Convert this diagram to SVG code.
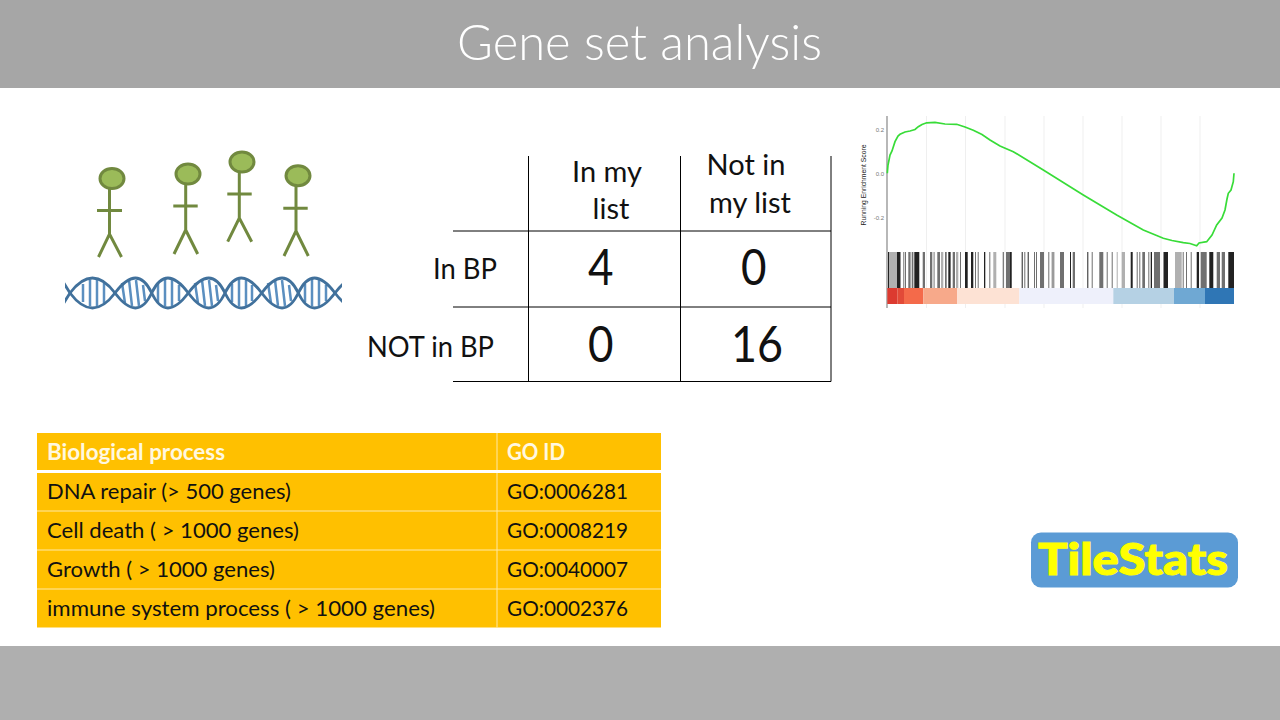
<svg xmlns="http://www.w3.org/2000/svg" width="1280" height="720" viewBox="0 0 1280 720">
<style>
text{font-family:"Lato","Carlito","Open Sans",sans-serif;fill:#111}
.head{fill:#9bbb59;stroke:#71893f;stroke-width:3}
.fig{fill:none;stroke:#71893f;stroke-width:3}
.cell{fill:#ffc000}
.rule{stroke:#000;stroke-width:1;fill:none}
.lab{font-size:29px}
.num{font-size:50px}
.row{font-size:21.5px}
.hdr{font-size:22px;font-weight:700;fill:#fff8e0}
.tick{font-size:6px;fill:#777;text-anchor:end;font-family:"Liberation Sans",sans-serif}
.strand{fill:none;stroke:#41719c;stroke-width:2.800}
.sep{stroke:#ffe9a6;stroke-width:1}
</style>
<defs><clipPath id="dc"><rect x="65" y="270" width="277" height="45"/></clipPath></defs>
<rect width="1280" height="720" fill="#fff"/>
<rect id="top-band" width="1280" height="88" fill="#a6a6a6"/>
<rect id="bottom-band" y="646" width="1280" height="74" fill="#afafaf"/>
<text id="title" x="457" y="60" font-size="50" font-weight="300" textLength="365" lengthAdjust="spacingAndGlyphs" style="fill:#fff">Gene set analysis</text>

<g id="people">
<g id="person1"><ellipse class="head" cx="112" cy="178.500" rx="12" ry="10"/><path class="fig" d="M109.500 188V234M97 210.500H122M98.500 257L109.500 234L121.500 257"/></g>
<g id="person2"><ellipse class="head" cx="188" cy="174" rx="12" ry="10"/><path class="fig" d="M185.700 184V230M173.300 206H197.700M174 254L185.700 230L197.700 254"/></g>
<g id="person3"><ellipse class="head" cx="242" cy="162" rx="12" ry="10"/><path class="fig" d="M239.300 172V218M227.300 194H251.700M227.700 241.700L239.300 218L251.700 241.700"/></g>
<g id="person4"><ellipse class="head" cx="298" cy="175.700" rx="12" ry="10"/><path class="fig" d="M296 186V231M283.300 208.300H307.700M284 256L296 231L308.300 256"/></g>
</g>

<g id="dna" clip-path="url(#dc)" fill="none">
<path stroke="#5b8fc0" stroke-width="2.500" d="M83 284V302M90 280V306M97 279V307M104 283V303M122 283L125 303M129 280L132 306M136 280L139 306M143 285L145 301M158 284V302M165 280V306M172 280V306M179 285V301M195 283L198 303M202 280L205 306M209 280L212 306M216 285L218 301M232 284V302M239 280V306M246 280V306M252 285V301M268 283L271 303M275 280L278 306M282 280L285 306M289 285L291 301M305 284V302M312 280V306M319 280V306M326 285V301"/>
<path class="strand" d="M60 277L70 293Q92.500 323 115 293T151.700 293T188.300 293T225 293T261.700 293T298.300 293T335 293T371.700 293"/>
<path class="strand" d="M60 309L70 293Q92.500 263 115 293T151.700 293T188.300 293T225 293T261.700 293T298.300 293T335 293T371.700 293"/>
</g>

<g id="contingency">
<path class="rule" d="M453 231H831M453 307H831M453 381.500H831M528.500 156V381.500M680.500 156V381.500M831 156V381.500"/>
<text class="lab" x="607" y="182" text-anchor="middle">In my</text>
<text class="lab" x="611" y="219" text-anchor="middle">list</text>
<text class="lab" x="746" y="175" text-anchor="middle">Not in</text>
<text class="lab" x="750" y="213" text-anchor="middle">my list</text>
<text class="lab" x="433" y="279" textLength="64" lengthAdjust="spacingAndGlyphs">In BP</text>
<text class="lab" x="367" y="357" textLength="127" lengthAdjust="spacingAndGlyphs">NOT in BP</text>
<text class="num" x="588" y="285" textLength="25.500" lengthAdjust="spacingAndGlyphs">4</text>
<text class="num" x="741" y="285" textLength="25.500" lengthAdjust="spacingAndGlyphs">0</text>
<text class="num" x="588" y="362" textLength="25.500" lengthAdjust="spacingAndGlyphs">0</text>
<text class="num" x="731" y="362" textLength="52" lengthAdjust="spacingAndGlyphs">16</text>
</g>

<g id="gsea-plot">
<path stroke="#efefef" stroke-width="1" d="M926.500 116V308M965.500 116V308M1005 116V308M1044 116V308M1083 116V308M1122 116V308M1161 116V308M1200 116V308"/>
<path stroke="#888" stroke-width="1.200" d="M887 116V308"/>
<text class="tick" x="884" y="131.500">0.2</text>
<text class="tick" x="884" y="175.500">0.0</text>
<text class="tick" x="884" y="219.500">-0.2</text>
<text transform="translate(866,185) rotate(-90)" text-anchor="middle" font-size="8" textLength="81" lengthAdjust="spacingAndGlyphs" style="font-family:'Liberation Sans',sans-serif;fill:#222">Running Enrichment Score</text>
<path fill="none" stroke="#38dc38" stroke-width="1.700" d="M887.300 173.300L888 165L890 155L892 151L895 141.700L898 136L900 134.300L905 132L910 131L915 129.500L918.300 126.700L922 124.500L926.700 122.800L935 122.300L945 124L956.700 124.300L965 127L973.300 130.300L982 134.500L990 140L1000 146L1013.300 151.700L1043.300 170L1083.300 195L1116.700 215L1143.300 230L1163.300 238.300L1172 240.500L1183.300 242.700L1190 243.500L1196.700 245.700L1199 243L1206.700 241.700L1212 235L1216.700 225L1222 218L1225 210L1227 199L1228.300 193.300L1231 190L1233.300 181.700L1234 173.300"/>
<path fill="#b0b0b0" d="M888 252h9v36h-9zM933.300 252h1.700v36h-1.700zM941 252h2.300v36h-2.300zM956 252h2.300v36h-2.300zM993.300 252h3v36h-3zM1116.700 252h1v36h-1zM1121.700 252h3.300v36h-3.300zM1175 252h6.700v36h-6.700z"/>
<path fill="#707070" d="M903.300 252h1v36h-1zM905 252h1v36h-1zM908.300 252h2.300v36h-2.300zM911.700 252h1.700v36h-1.700zM922.700 252h2.300v36h-2.300zM930 252h2.300v36h-2.300zM937.300 252h2.700v36h-2.700zM945 252h1.700v36h-1.700zM952.700 252h2.300v36h-2.300zM960 252h1v36h-1zM975 252h1v36h-1zM977.700 252h1v36h-1zM989.300 252h1v36h-1zM1002.700 252h1.200v36h-1.200zM1006 252h5.700v36h-5.700zM1024.300 252h1v36h-1zM1034 252h1v36h-1zM1036 252h1v36h-1zM1040 252h4v36h-4zM1048.300 252h1v36h-1zM1051.700 252h1v36h-1zM1053.300 252h1v36h-1zM1060 252h4v36h-4zM1072.700 252h2.300v36h-2.300zM1091.700 252h1v36h-1zM1099.300 252h4v36h-4zM1106.700 252h1v36h-1zM1111.700 252h1v36h-1zM1136.700 252h1v36h-1zM1139.300 252h1v36h-1zM1142.300 252h2.700v36h-2.700zM1148.300 252h1v36h-1zM1154 252h6v36h-6zM1182.700 252h1v36h-1zM1186 252h1v36h-1zM1190.700 252h1v36h-1zM1200.700 252h6v36h-6zM1216.700 252h3.300v36h-3.300zM1221.700 252h3.300v36h-3.300z"/>
<path fill="#222" d="M888 252h1v36h-1zM897 252h3.500v36h-3.500zM914.300 252h5v36h-5zM948.300 252h2.300v36h-2.300zM965 252h2.700v36h-2.700zM971 252h2.300v36h-2.300zM984 252h1.300v36h-1.300zM1010 252h1.500v36h-1.500zM1021.700 252h1v36h-1zM1027.700 252h1v36h-1zM1070 252h1v36h-1zM1087.300 252h1v36h-1zM1130.700 252h2v36h-2zM1150.700 252h1.300v36h-1.300zM1163.500 252h4.500v36h-4.500zM1196.700 252h2.300v36h-2.300zM1209.300 252h4v36h-4zM1228.300 252h5.700v36h-5.700z"/>
<rect x="887.300" y="288" width="10" height="16" fill="#dc3a30"/>
<rect x="897.300" y="288" width="6.700" height="16" fill="#e24a38"/>
<rect x="904" y="288" width="19.300" height="16" fill="#f46a4a"/>
<rect x="923.300" y="288" width="34" height="16" fill="#f7a98a"/>
<rect x="957.300" y="288" width="62" height="16" fill="#fde2d4"/>
<rect x="1019.300" y="288" width="94" height="16" fill="#eef0fb"/>
<rect x="1113.300" y="288" width="60.700" height="16" fill="#b5d1e4"/>
<rect x="1174" y="288" width="31" height="16" fill="#6fa8d3"/>
<rect x="1205" y="288" width="29" height="16" fill="#2f76b5"/>
</g>

<g id="go-table">
<rect class="cell" x="37" y="433" width="624" height="37"/>
<rect class="cell" x="37" y="473" width="624" height="154.500"/>
<path class="sep" d="M497 433V470M497 473V627.500M37 511H661M37 550H661M37 589H661"/>
<text class="hdr" x="47" y="460" textLength="178" lengthAdjust="spacingAndGlyphs">Biological process</text><text class="hdr" x="507" y="460" textLength="58" lengthAdjust="spacingAndGlyphs">GO ID</text>
<text class="row" x="47" y="499" textLength="244" lengthAdjust="spacingAndGlyphs">DNA repair (&gt; 500 genes)</text><text class="row" x="507" y="499" textLength="121" lengthAdjust="spacingAndGlyphs">GO:0006281</text>
<text class="row" x="47" y="538" textLength="252" lengthAdjust="spacingAndGlyphs">Cell death ( &gt; 1000 genes)</text><text class="row" x="507" y="538" textLength="121" lengthAdjust="spacingAndGlyphs">GO:0008219</text>
<text class="row" x="47" y="577" textLength="228" lengthAdjust="spacingAndGlyphs">Growth ( &gt; 1000 genes)</text><text class="row" x="507" y="577" textLength="121" lengthAdjust="spacingAndGlyphs">GO:0040007</text>
<text class="row" x="47" y="616" textLength="388" lengthAdjust="spacingAndGlyphs">immune system process ( &gt; 1000 genes)</text><text class="row" x="507" y="616" textLength="121" lengthAdjust="spacingAndGlyphs">GO:0002376</text>
</g>

<g id="logo">
<rect x="1031" y="532.500" width="207" height="55" rx="10" fill="#5b9bd5"/>
<text x="1038" y="575" font-size="43" font-weight="900" textLength="190" lengthAdjust="spacingAndGlyphs" stroke="#ffff00" stroke-width="1" style="fill:#ffff00">TileStats</text>
</g>
</svg>
